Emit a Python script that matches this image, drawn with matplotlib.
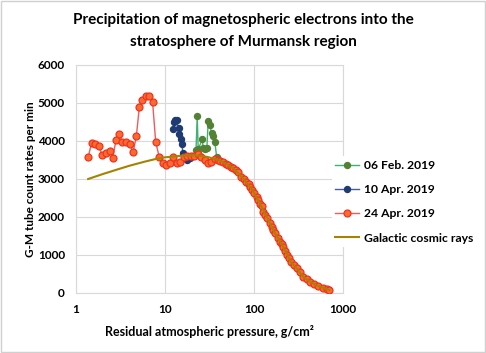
import matplotlib.pyplot as plt
from matplotlib.ticker import FixedLocator, FixedFormatter, NullLocator

plt.rcParams['font.family'] = ['Lato', 'DejaVu Sans']
plt.rcParams['font.weight'] = 'bold'

# 06 Feb. 2019
feb_p = [22.3, 23.0, 23.6, 26.2, 26.9, 28.0, 29.5, 30.6, 31.9, 33.3, 34.7, 36.3, 38.0]
feb_n = [3760, 4660, 3780, 4045, 3808, 3800, 3808, 4530, 4430, 4200, 4130, 3970, 3590]

# 10 Apr. 2019
apr10_p = [12.2, 12.7, 13.1, 13.5, 14.2, 14.5, 15.0, 15.4, 16.0, 16.8, 17.8, 19.0]
apr10_n = [4316, 4509, 4560, 4553, 4334, 4184, 4050, 3913, 3675, 3560, 3500, 3540]

# 24 Apr. 2019
apr24_p = [1.37, 1.50, 1.65, 1.81, 1.97, 2.17, 2.39, 2.58, 2.82, 3.04, 3.31, 3.67,
           4.01, 4.37, 4.76, 5.15, 5.56, 6.12, 6.67, 7.25, 7.86, 8.60, 9.43, 10.2,
           11.3, 12.4, 13.5, 14.9, 16.2, 17.8, 19.6, 21.3, 23.3, 25.5, 27.8, 30.4,
           33.1, 36.2, 39.7, 42.0, 45.0, 48.0, 51.4, 55.0, 58.5, 62.0, 66.3, 72.0,
           77.0, 82.0, 87.0, 91.0, 96.0, 101, 107, 112, 117, 122, 127, 134, 141,
           150, 158, 165, 172, 184, 196, 205, 213, 223, 233, 245, 258, 280, 302,
           330, 356, 390, 425, 470, 528, 590, 655, 700]
apr24_n = [3580, 3955, 3920, 3860, 3630, 3680, 3740, 3560, 4030, 4180, 3975, 3965,
           3930, 3700, 4120, 4900, 5080, 5175, 5185, 5025, 3975, 3580, 3430, 3370,
           3420, 3590, 3410, 3440, 3590, 3600, 3605, 3600, 3660, 3570, 3500, 3412,
           3440, 3526, 3500, 3470, 3440, 3400, 3368, 3320, 3280, 3230, 3192, 3060,
           2990, 2930, 2860, 2780, 2710, 2620, 2535, 2440, 2340, 2300, 2140, 2050,
           1970, 1850, 1730, 1650, 1570, 1460, 1350, 1280, 1220, 1100, 1000, 910,
           820, 740, 650, 540, 430, 360, 300, 240, 185, 140, 100, 80]

# Galactic cosmic rays
gcr_p = [1.37, 2.0, 3.0, 4.0, 6.0, 8.0, 10.0, 15.0, 20.0, 25.0, 30.0, 40.0, 50.0,
         60.0, 77.0, 96.0, 117, 141, 172, 213, 258, 302, 356, 425, 528, 655, 700]
gcr_n = [3000, 3130, 3260, 3350, 3460, 3530, 3570, 3610, 3620, 3610, 3580, 3500,
         3390, 3260, 2990, 2710, 2340, 1970, 1570, 1220, 820, 650, 430, 300, 185, 100, 80]

fig = plt.figure(figsize=(4.86, 3.53), dpi=100)
ax = fig.add_axes([0.1564, 0.170, 0.5494, 0.6459])

ax.plot(feb_p, feb_n, color='#3cb371', lw=1.0, marker='o', ms=4.3,
        mfc='#548235', mec='#548235', label='06 Feb. 2019', zorder=3)
ax.plot(apr10_p, apr10_n, color='#44609a', lw=1.0, marker='o', ms=4.3,
        mfc='#1f3b73', mec='#1f3b73', label='10 Apr. 2019', zorder=3)
ax.plot(apr24_p, apr24_n, color='#f05a5a', lw=1.0, marker='o', ms=5,
        mfc='#fb6a2c', mec='#ee3322', mew=0.9, label='24 Apr. 2019', zorder=4)
ax.plot(gcr_p, gcr_n, color='#a58300', lw=1.5, label='Galactic cosmic rays', zorder=5)

ax.set_xscale('log')
ax.set_xlim(1, 1000)
ax.set_ylim(0, 6000)
ax.xaxis.set_major_locator(FixedLocator([1, 10, 100, 1000]))
ax.xaxis.set_major_formatter(FixedFormatter(['1', '10', '100', '1000']))
ax.xaxis.set_minor_locator(NullLocator())
ax.set_yticks(range(0, 6001, 1000))
ax.tick_params(length=0, labelsize=8.5, pad=8)
for lab in ax.get_xticklabels() + ax.get_yticklabels():
    lab.set_fontweight('bold')

ax.grid(color='#d9d9d9', lw=0.8)
ax.set_axisbelow(True)
for s in ax.spines.values():
    s.set_color('#d9d9d9')
    s.set_linewidth(0.8)

ax.set_xlabel('Residual atmospheric pressure, g/cm²', fontsize=9,
              fontweight='bold', labelpad=7)
ax.set_ylabel('G-M tube count rates per min', fontsize=8.5, fontweight='bold', labelpad=1)

fig.text(0.5, 0.912, 'Precipitation of magnetospheric electrons into the\nstratosphere of Murmansk region',
         ha='center', va='center', fontsize=11, fontweight='bold', linespacing=1.65)

leg = ax.legend(loc='center left', bbox_to_anchor=(0.957, 0.40), frameon=True,
                fontsize=8.7, handlelength=2.0, labelspacing=1.1, handletextpad=0.4,
                borderaxespad=0, borderpad=0.3, fancybox=False)
leg.get_frame().set_facecolor('white')
leg.get_frame().set_edgecolor('none')
leg.get_frame().set_alpha(1)
for t in leg.get_texts():
    t.set_fontweight('bold')

fig.patches.append(plt.Rectangle((0.002, 0.003), 0.996, 0.994, transform=fig.transFigure,
                                 fill=False, edgecolor='#d0d0d0', lw=1.0))

fig.savefig('out.png', dpi=100)
